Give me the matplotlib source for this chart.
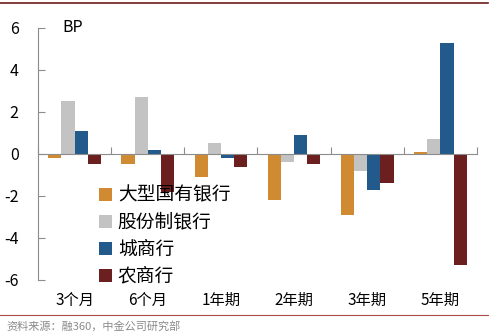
import matplotlib
matplotlib.use("Agg")
import matplotlib.pyplot as plt
import numpy as np
from matplotlib.lines import Line2D
from matplotlib.patches import Patch

plt.rcParams['font.family'] = ['Noto Sans CJK SC', 'DejaVu Sans']

categories = ["3个月", "6个月", "1年期", "2年期", "3年期", "5年期"]
series_names = ["大型国有银行", "股份制银行", "城商行", "农商行"]
large_state = [-0.2, -0.5, -1.1, -2.2, -2.9, 0.1]
joint_stock = [2.5, 2.7, 0.5, -0.4, -0.8, 0.7]
city_comm = [1.1, 0.2, -0.2, 0.9, -1.7, 5.3]
rural_comm = [-0.5, -1.8, -0.6, -0.5, -1.4, -5.3]
yticks = [-6, -4, -2, 0, 2, 4, 6]
source = "资料来源：融360，中金公司研究部"

colors = ["#D08B32", "#C3C3C3", "#215A8B", "#6B1F1F"]
series = [large_state, joint_stock, city_comm, rural_comm]

fig = plt.figure(figsize=(5.0, 3.34), dpi=100)
ax = fig.add_axes([0.076, 0.1617, 0.878, 0.7545])

x = np.arange(len(categories))
w = 0.18
for i, (vals, c) in enumerate(zip(series, colors)):
    ax.bar(x + (i - 1.5) * w, vals, width=w, color=c, label=series_names[i])

ax.set_xlim(-0.5, len(categories) - 0.5)
ax.set_ylim(-6, 6)
ax.set_yticks(yticks)
ax.set_yticklabels([str(v) for v in yticks], fontsize=11.5)

for s in ["top", "right"]:
    ax.spines[s].set_visible(False)
ax.spines["left"].set_color("#8C8C8C")
ax.spines["bottom"].set_position(("data", 0))
ax.spines["bottom"].set_color("#8C8C8C")
ax.tick_params(axis="y", direction="in", length=5, color="#8C8C8C", pad=14)
ax.set_xticks(np.arange(len(categories) + 1) - 0.5)
ax.set_xticklabels([])
ax.tick_params(axis="x", direction="in", length=5, color="#8C8C8C")

for xi, lab in zip(x, categories):
    ax.text(xi, -6.95, lab, ha="center", va="center", fontsize=11, clip_on=False)

ax.text(0.055, 1.0, "BP", transform=ax.transAxes, ha="left", va="center", fontsize=11.5)

handles = [Patch(facecolor=c, edgecolor="none") for c in colors]
leg = fig.legend(handles, series_names, loc="upper left", bbox_to_anchor=(0.198, 0.447),
                 frameon=False, fontsize=13.5, handlelength=0.7, handleheight=0.7,
                 handletextpad=0.3, labelspacing=0.32, borderpad=0, borderaxespad=0)

fig.add_artist(Line2D([0.0, 0.975], [0.991, 0.991], color="#6E1A1A", lw=1.2))
fig.add_artist(Line2D([0.0, 0.975], [0.057, 0.057], color="#B04A4A", lw=0.8))
fig.text(0.012, 0.022, source, fontsize=8, color="#8A8A8A", ha="left", va="center")

fig.savefig("out.png", dpi=100)
